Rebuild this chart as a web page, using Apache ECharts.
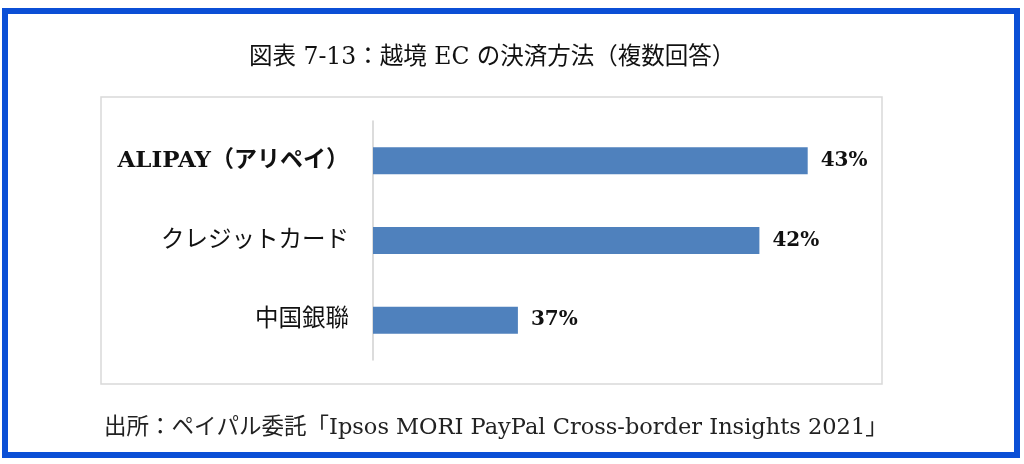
<!DOCTYPE html>
<html><head><meta charset="utf-8">
<script src="https://cdn.jsdelivr.net/npm/echarts@6/dist/echarts.min.js"></script>
<style>html,body{margin:0;padding:0;background:#fff}#c{width:1024px;height:464px}</style>
</head><body><div id="c"></div>
<script>
const categories = ['中国銀聯', 'クレジットカード', 'ALIPAY（アリペイ）'];
const values = [37, 42, 43];
const titleText = '図表 7-13：越境 EC の決済方法（複数回答）';
const sourceText = '出所：ペイパル委託「Ipsos MORI PayPal Cross-border Insights 2021」';
const serif = '"DejaVu Serif", "Liberation Serif", "Noto Sans CJK JP", serif';

const chart = echarts.init(document.getElementById('c'));
chart.setOption({
  animation: false,
  backgroundColor: '#fff',
  graphic: [
    { type: 'rect', shape: { x: 101, y: 97, width: 781, height: 287 }, style: { fill: 'none', stroke: '#d9d9d9', lineWidth: 1.5 }, z: 0 },
    { type: 'rect', shape: { x: 5, y: 11, width: 1012, height: 444 }, style: { fill: 'none', stroke: '#0b4fd6', lineWidth: 6 }, z: 10 },
    { type: 'text', left: 249, top: 46, style: { text: titleText, font: '23.5px ' + serif, fill: '#111' } },
    { type: 'text', left: 104, top: 417, style: { text: sourceText, font: '22.5px ' + serif, fill: '#222' } }
  ],
  grid: { left: 373, top: 121, width: 483, height: 239, containLabel: false },
  xAxis: { type: 'value', min: 34, max: 44, show: false },
  yAxis: {
    type: 'category', data: categories,
    axisLine: { show: true, lineStyle: { color: '#d0d0d0', width: 1.5 } },
    axisTick: { show: false },
    axisLabel: {
      margin: 24, fontSize: 23.5, fontFamily: serif, color: '#111',
      formatter: v => v.startsWith('ALIPAY') ? '{b|' + v + '}' : v,
      rich: { b: { fontSize: 23, fontWeight: 'bold', fontFamily: serif, color: '#111' } }
    }
  },
  series: [{
    type: 'bar', data: values, barWidth: 27,
    itemStyle: { color: '#4f81bd' },
    label: { show: true, position: 'right', distance: 13, formatter: '{c}%', fontSize: 20, fontWeight: 'bold', fontFamily: serif, color: '#111' }
  }]
});
</script></body></html>
